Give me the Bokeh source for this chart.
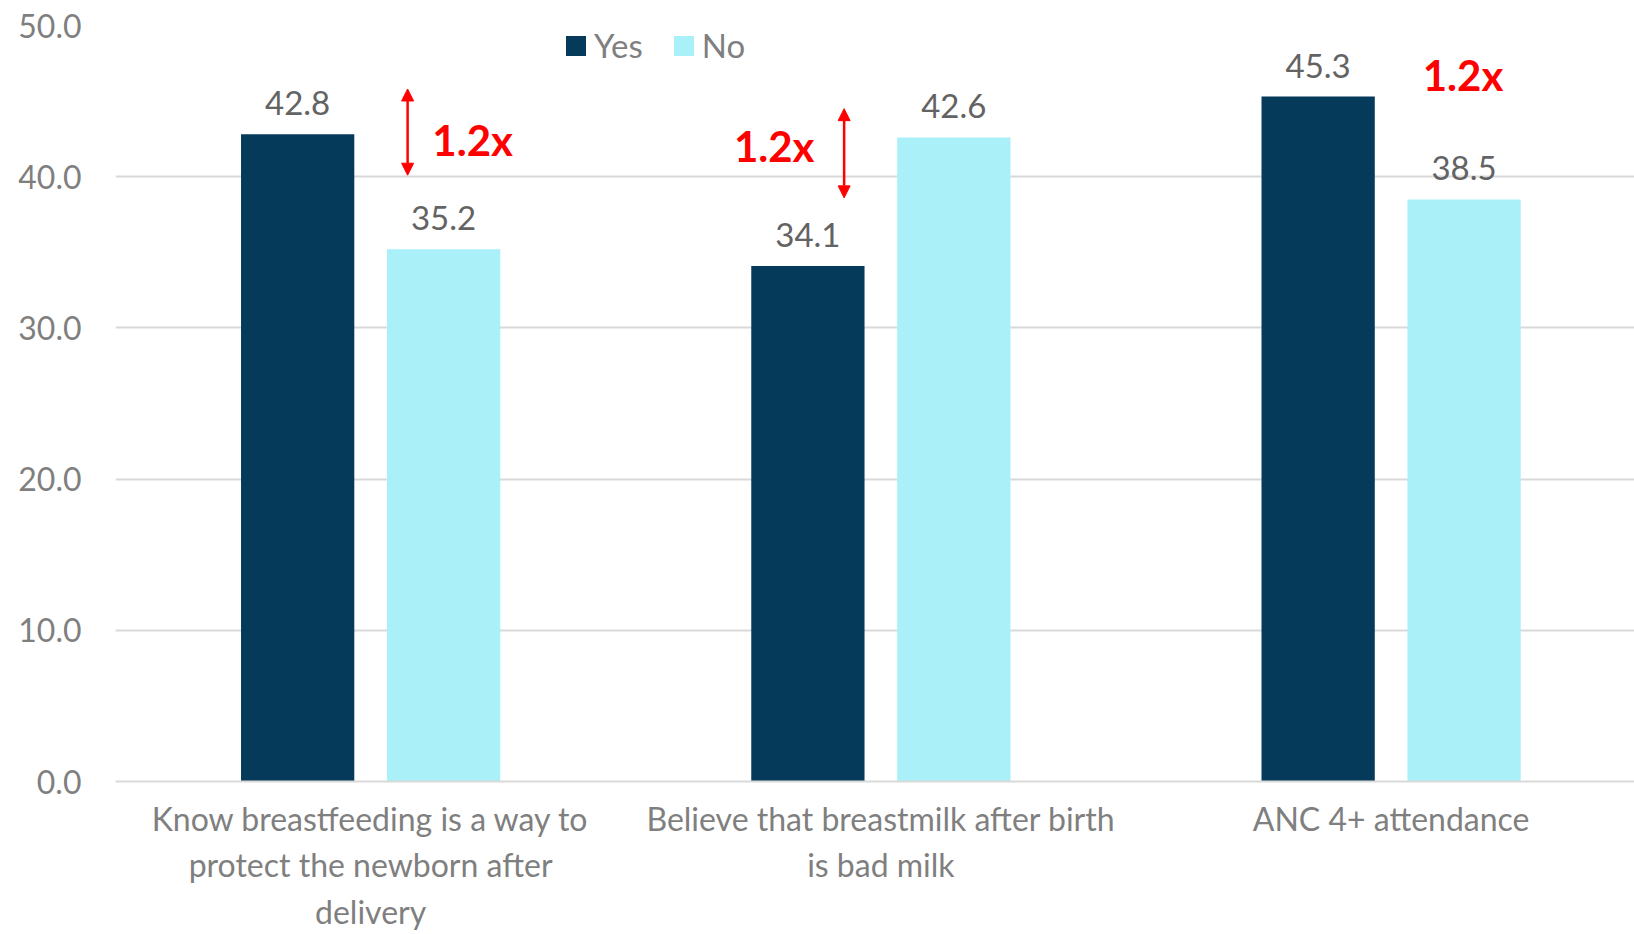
from bokeh.plotting import figure
from bokeh.models import (ColumnDataSource, Range1d, FixedTicker, Legend, LegendItem,
                          Arrow, NormalHead, Label)
from bokeh.core.properties import value
from bokeh.embed import file_html
from bokeh.resources import INLINE

# ---- data -------------------------------------------------------------
categories = [
    "Know breastfeeding is a way to\nprotect the newborn after\ndelivery",
    "Believe that breastmilk after birth\nis bad milk",
    "ANC 4+ attendance",
]
yes_values = [42.8, 34.1, 45.3]
no_values = [35.2, 42.6, 38.5]
y_ticks = [0, 10, 20, 30, 40, 50]
ratio_labels = ["1.2x", "1.2x", "1.2x"]

# ---- styling ----------------------------------------------------------
FONT = "Lato"
YES_COLOR = "#063A5B"
NO_COLOR = "#A9F0F8"
AXIS_TEXT = "#7F7F7F"
VALUE_TEXT = "#636363"
GRID = "#D9D9D9"
RED = "#FF0000"

BAR_W = 0.222
OFFSET = 0.143

centers = [i + 0.5 for i in range(len(categories))]
yes_x = [c - OFFSET for c in centers]
no_x = [c + OFFSET for c in centers]

p = figure(width=1634, height=934, output_backend="svg", toolbar_location=None,
           x_range=Range1d(0, 2.977), y_range=Range1d(0, 50),
           min_border_left=115, min_border_right=0, min_border_top=25,
           min_border_bottom=153)
p.outline_line_color = None
p.background_fill_color = "white"
p.border_fill_color = "white"

yes_src = ColumnDataSource(dict(x=yes_x, top=yes_values,
                                label=[f"{v:.1f}" for v in yes_values]))
no_src = ColumnDataSource(dict(x=no_x, top=no_values,
                               label=[f"{v:.1f}" for v in no_values]))

r_yes = p.vbar(x="x", top="top", width=BAR_W, source=yes_src,
               fill_color=YES_COLOR, line_color=None)
r_no = p.vbar(x="x", top="top", width=BAR_W, source=no_src,
              fill_color=NO_COLOR, line_color=None)

for src in (yes_src, no_src):
    p.text(x="x", y="top", text="label", source=src, text_align="center",
           text_baseline="bottom", y_offset=-19, text_color=VALUE_TEXT,
           text_font=value(FONT), text_font_size="33px")

# axes
p.yaxis.ticker = FixedTicker(ticks=y_ticks)
p.yaxis.major_label_overrides = {t: f"{t:.1f}" for t in y_ticks}
p.yaxis.axis_line_color = None
p.yaxis.major_tick_line_color = None
p.yaxis.minor_tick_line_color = None
p.yaxis.major_label_standoff = 28
p.yaxis.major_label_text_font = FONT
p.yaxis.major_label_text_font_size = "32px"
p.yaxis.major_label_text_color = AXIS_TEXT

p.xaxis.ticker = FixedTicker(ticks=centers)
p.xaxis.major_label_overrides = {c: name for c, name in zip(centers, categories)}
p.xaxis.axis_line_color = GRID
p.xaxis.axis_line_width = 2
p.xaxis.major_tick_line_color = None
p.xaxis.minor_tick_line_color = None
p.xaxis.major_label_standoff = 11
p.xaxis.major_label_text_font = FONT
p.xaxis.major_label_text_font_size = "32px"
p.xaxis.major_label_text_color = AXIS_TEXT

p.xgrid.grid_line_color = None
p.ygrid.ticker = FixedTicker(ticks=y_ticks)
p.ygrid.grid_line_color = GRID
p.ygrid.grid_line_width = 2

# legend
legend = Legend(items=[LegendItem(label="Yes", renderers=[r_yes]),
                       LegendItem(label="No", renderers=[r_no])],
                orientation="horizontal", location=(448, 716),
                border_line_color=None, background_fill_alpha=0,
                padding=0, margin=0, spacing=28, label_standoff=6,
                glyph_width=25, glyph_height=25,
                label_text_font=FONT, label_text_font_size="33px",
                label_text_color=AXIS_TEXT)
p.add_layout(legend)

# ratio annotations
arrow_specs = [(0.5725, 45.8, 40.1), (1.428, 44.5, 38.6)]
for ax, y0, y1 in arrow_specs:
    p.add_layout(Arrow(x_start=ax, y_start=y1, x_end=ax, y_end=y0,
                       line_color=RED, line_width=2.5,
                       start=NormalHead(size=12, fill_color=RED, line_color=RED, line_width=1),
                       end=NormalHead(size=12, fill_color=RED, line_color=RED, line_width=1)))

ratio_pos = [(0.621, 42.4), (1.212, 42.0), (2.562, 46.7)]
for (tx, ty), txt in zip(ratio_pos, ratio_labels):
    p.add_layout(Label(x=tx, y=ty, text=txt, text_color=RED, text_font=FONT,
                       text_font_style="bold", text_font_size="42px",
                       text_baseline="middle", text_align="left"))

open("out.html", "w").write(file_html(p, INLINE))
